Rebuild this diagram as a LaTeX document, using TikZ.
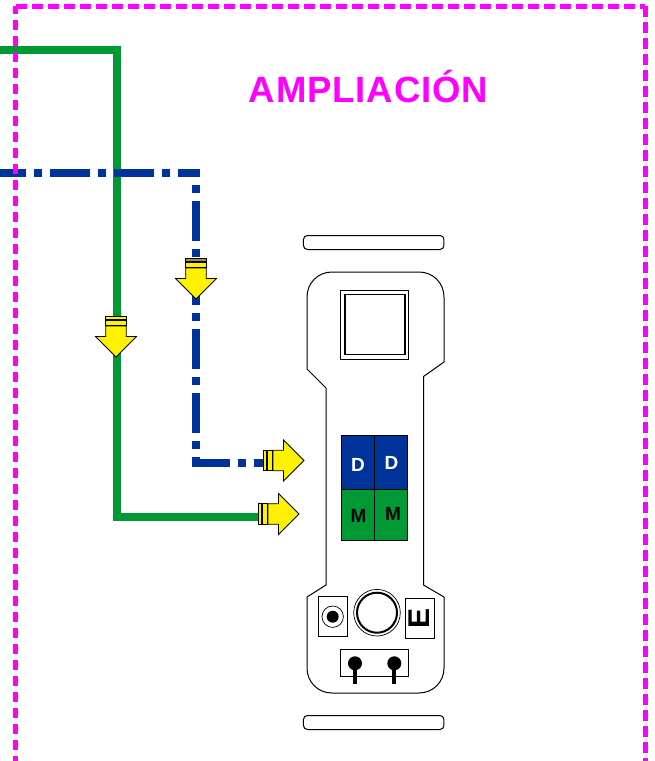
\documentclass[tikz,border=0pt]{standalone}
\usepackage{fontspec}
\setmainfont{Liberation Sans}
\definecolor{frameM}{RGB}{255,0,255}
\definecolor{lineG}{RGB}{0,153,51}
\definecolor{lineB}{RGB}{0,51,153}
\tikzset{
  framedash/.style={draw=frameM,line width=5pt,dash pattern=on 10.5pt off 5.5pt},
  greenline/.style={draw=lineG,line width=8pt,miter limit=10},
  blueline/.style={draw=lineB,line width=8pt,dash pattern=on 40pt off 8pt on 8pt off 8pt},
  arrowpart/.style={fill=yellow,draw=black,line width=0.8pt,miter limit=10},
  outline/.style={draw=black,line width=1pt,fill=white},
  cell/.style={draw=black,line width=1pt,minimum width=33pt,inner sep=0pt,outer sep=0pt},
  celltext/.style={font=\bfseries\fontsize{19}{21}\selectfont,inner sep=0pt},
}
\newcommand{\collararrow}[3]{%
  \begin{scope}[shift={(#1)},rotate=#2]
    \path[arrowpart] (0,0) -- (-20.5,-20.5) -- (-10.2,-20.5) -- (-10.2,-31) -- (10.2,-31) -- (10.2,-20.5) -- (20.5,-20.5) -- cycle;
    \path[arrowpart] (-10.2,-32) rectangle (10.2,-36.7);
    \path[arrowpart,#3] (-10.2,-37.8) rectangle (10.2,-40.8);
  \end{scope}}
\begin{document}
\begin{tikzpicture}[x=1pt,y=-1pt]
\useasboundingbox (0,0) rectangle (654,761);
% named points
\coordinate (gStart) at (0,50);
\coordinate (gTurnA) at (116.5,50);
\coordinate (gTurnB) at (116.5,517);
\coordinate (gEnd) at (268,517);
\coordinate (bStart) at (0,172.5);
\coordinate (bTurnA) at (200,172.5);
\coordinate (bDownA) at (196,172.5);
\coordinate (bDownB) at (196,467);
\coordinate (bTurnB) at (192,463);
\coordinate (bEnd) at (273,463);
\coordinate (fTL) at (15.5,6);
\coordinate (fTLh) at (16,6);
\coordinate (fTR) at (645,6);
\coordinate (fBL) at (15.5,761);
\coordinate (fBR) at (645,761);
% connectors
\draw[greenline] (gStart) -- (gTurnA) -- (gTurnB) -- (gEnd);
\draw[blueline,dash phase=14pt] (bStart) -- (bTurnA);
\draw[blueline,dash phase=36pt] (bDownA) -- (bDownB);
\draw[blueline,dash phase=2pt] (bTurnB) -- (bEnd);
% frame
\draw[framedash] (fTLh) -- (fTR);
\draw[framedash,dash phase=2.5pt] (fTL) -- (fBL);
\draw[framedash] (fTR) -- (fBR);
% title
\node[text=frameM,font=\bfseries\fontsize{36.5}{40}\selectfont\addfontfeatures{LetterSpace=2.5},inner sep=0pt,anchor=base] (title) at (368.5,102.3) {AMPLIACIÓN};
% arrows
\collararrow{116,357}{0}{}
\collararrow{196,299}{0}{fill=yellow!55!black}
\collararrow{304,460.5}{90}{}
\collararrow{299,514}{90}{}
% device
\node[outline,rounded corners=4pt,minimum width=140.5pt,minimum height=14pt,inner sep=0pt] (barTop) at (373.7,242.5) {};
\node[outline,rounded corners=4pt,minimum width=140.5pt,minimum height=14pt,inner sep=0pt] (barBottom) at (373.7,722.5) {};
\path[outline] (332,272) -- (419,272) .. controls (433,272) and (444,283) .. (444,297) -- (444,362) -- (423.5,376.5) -- (423.5,585) -- (444,597) -- (444,668) .. controls (444,682) and (433,693) .. (419,693) -- (332,693) .. controls (318,693) and (307,682) .. (307,668) -- (307,597) -- (326,585) -- (326,388) -- (307,369) -- (307,297) .. controls (307,283) and (318,272) .. (332,272) -- cycle;
\node[outline,minimum width=68.5pt,minimum height=69pt,inner sep=0pt] (screenOuter) at (374.7,324.5) {};
\node[outline,line width=1.4pt,minimum width=60pt,minimum height=60pt,inner sep=0pt] (screenInner) at (375,324.5) {};
% keypad
\node[cell,fill=lineB,minimum height=54pt] (d1) at (358,462) {};
\node[cell,fill=lineB,minimum height=54pt] (d2) at (391,462) {};
\node[cell,fill=lineG,minimum height=51pt] (m1) at (358,514.5) {};
\node[cell,fill=lineG,minimum height=51pt] (m2) at (391,514.5) {};
\node[celltext,text=white] (dA) at (358,465) {D};
\node[celltext,text=white] (dB) at (391.5,463) {D};
\node[celltext,text=black] (mA) at (358.5,516) {M};
\node[celltext,text=black] (mB) at (393,514) {M};
% lower controls
\node[outline,minimum width=29.5pt,minimum height=40pt,inner sep=0pt] (leftBox) at (332.8,616.7) {};
\draw[line width=0.7pt] (332.7,616.7) circle[radius=10.7];
\fill (332.7,616.7) circle[radius=6];
\draw[line width=0.7pt] (377,612.7) circle[radius=23.3];
\draw[line width=2pt] (377,612.7) circle[radius=20];
\node[outline,minimum width=29.5pt,minimum height=40pt,inner sep=0pt] (rightBox) at (420,618.3) {};
\node[font=\bfseries\fontsize{30}{32}\selectfont,rotate=90,inner sep=0pt] (eLabel) at (419.3,618) {E};
\node[outline,minimum width=68.5pt,minimum height=26.7pt,inner sep=0pt] (lowBox) at (374.7,662.7) {};
\coordinate (stemA) at (355,684);
\coordinate (stemB) at (394.3,684);
\draw[line width=4pt] (355,663) -- (stemA);
\draw[line width=4pt] (394.3,663) -- (stemB);
\fill (355,663.3) circle[radius=7];
\fill (394.3,663.3) circle[radius=7];
\end{tikzpicture}
\end{document}
